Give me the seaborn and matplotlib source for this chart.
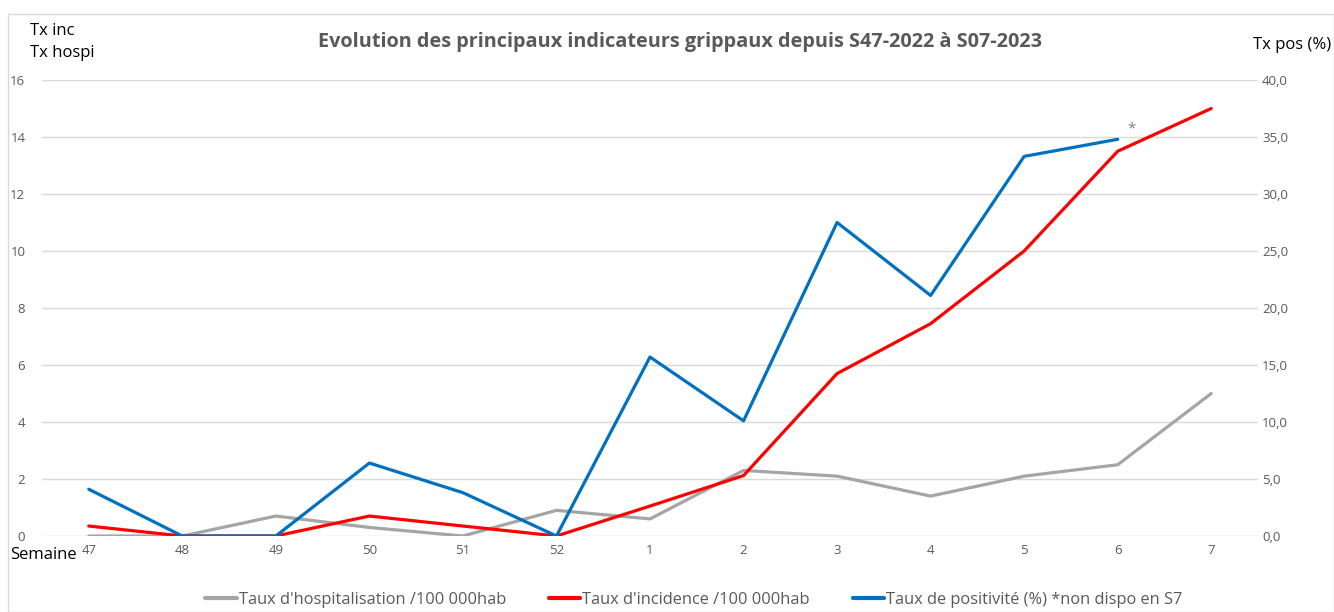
import numpy as np
import pandas as pd
import seaborn as sns
import matplotlib.pyplot as plt
from matplotlib.lines import Line2D
from matplotlib.patches import Rectangle

# Weeks S47-2022 to S07-2023
semaines = ['47', '48', '49', '50', '51', '52', '1', '2', '3', '4', '5', '6', '7']
tx_hospi = [0.0, 0.0, 0.7, 0.3, 0.0, 0.9, 0.6, 2.3, 2.1, 1.4, 2.1, 2.5, 5.0]
tx_inc = [0.35, 0.0, 0.0, 0.7, 0.35, 0.0, 1.05, 2.12, 5.7, 7.45, 10.0, 13.5, 15.0]
tx_pos = [4.1, 0.0, 0.0, 6.4, 3.8, 0.0, 15.7, 10.1, 27.5, 21.1, 33.3, 34.8, np.nan]  # S7 not available

df = pd.DataFrame({'pos': np.arange(len(semaines)), 'semaine': semaines,
                   'hospi': tx_hospi, 'inc': tx_inc, 'posit': tx_pos})

sns.set_style('white')
plt.rcParams['font.family'] = ['Open Sans', 'DejaVu Sans']

GREY_TXT = '#595959'
C_HOSPI = '#A5A5A5'
C_INC = '#FF0000'
C_POS = '#0070C0'

fig = plt.figure(figsize=(13.34, 6.12), dpi=100)
ax = fig.add_axes([42 / 1334, 1 - 536 / 612, (1258 - 42) / 1334, (536 - 80) / 612])
ax2 = ax.twinx()

sns.lineplot(data=df, x='pos', y='hospi', ax=ax, color=C_HOSPI, linewidth=2.3)
sns.lineplot(data=df, x='pos', y='inc', ax=ax, color=C_INC, linewidth=2.3)
sns.lineplot(data=df.dropna(), x='pos', y='posit', ax=ax2, color=C_POS, linewidth=2.3)

ax.set_xlim(-0.5, len(semaines) - 0.5)
ax.set_ylim(0, 16)
ax2.set_ylim(0, 40)
ax.set_yticks(np.arange(0, 17, 2))
ax2.set_yticks(np.arange(0, 41, 5))
ax2.set_yticklabels([f'{v:.1f}'.replace('.', ',') for v in np.arange(0, 41, 5)])
ax.set_xticks(df['pos'])
ax.set_xticklabels(semaines)

ax.grid(axis='y', color='#D9D9D9', linewidth=1)
ax.set_axisbelow(True)
for a in (ax, ax2):
    for s in a.spines.values():
        s.set_visible(False)
    a.set_xlabel('')
    a.set_ylabel('')
    a.tick_params(length=0, colors=GREY_TXT, labelsize=9.5)
ax.tick_params(axis='y', pad=12)
ax.tick_params(axis='x', pad=6)
ax2.tick_params(axis='y', pad=3)
# keep the lines above the grid of the first axes
ax2.set_zorder(ax.get_zorder() + 1)
ax2.patch.set_visible(False)

# note on the last available positivity point
ax2.annotate('*', xy=(df['pos'][11], tx_pos[11]), xytext=(7, 5), textcoords='offset points',
             color='#808080', fontsize=11)

fig.text(680 / 1334, 1 - 42 / 612, "Evolution des principaux indicateurs grippaux depuis S47-2022 à S07-2023",
         ha='center', va='center', fontsize=14.3, fontweight='bold', color=GREY_TXT)
fig.text(30 / 1334, 1 - 31 / 612, 'Tx inc', ha='left', va='center', fontsize=12, color='black')
fig.text(30 / 1334, 1 - 53 / 612, 'Tx hospi', ha='left', va='center', fontsize=12, color='black')
fig.text(1253 / 1334, 1 - 45 / 612, 'Tx pos (%)', ha='left', va='center', fontsize=12, color='black')
fig.text(10 / 1334, 1 - 555 / 612, 'Semaine', ha='left', va='center', fontsize=12, color='black')

# chart area outline
fig.patches.append(Rectangle((8 / 1334, 0), 1 - 8 / 1334, 1 - 14 / 612, transform=fig.transFigure,
                             fill=False, edgecolor='#D9D9D9', linewidth=1))

handles = [Line2D([], [], color=C_HOSPI, linewidth=3),
           Line2D([], [], color=C_INC, linewidth=3),
           Line2D([], [], color=C_POS, linewidth=3)]
labels = ["Taux d'hospitalisation /100 000hab", "Taux d'incidence /100 000hab",
          "Taux de positivité (%) *non dispo en S7"]
leg = fig.legend(handles, labels, loc='center', bbox_to_anchor=(694 / 1334, 1 - 600 / 612), ncol=3,
                 frameon=False, fontsize=11.8, handlelength=1.9, handletextpad=0.15, columnspacing=2.6)
for t in leg.get_texts():
    t.set_color(GREY_TXT)

fig.savefig('out.png', dpi=100)
